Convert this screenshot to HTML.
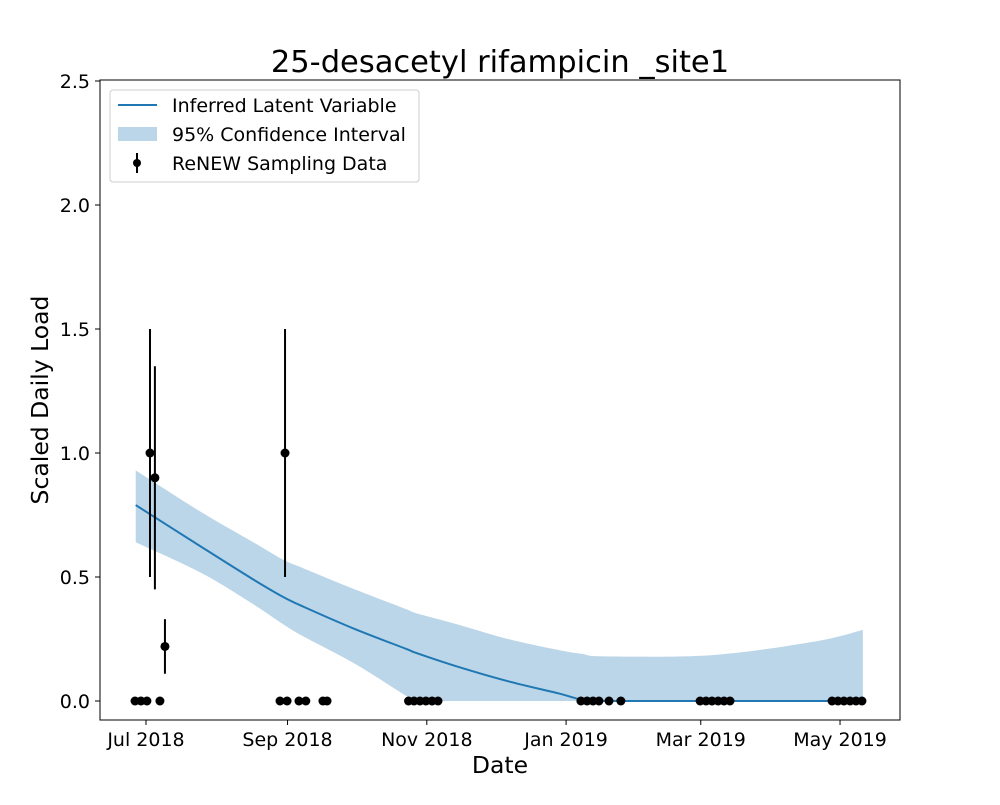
<!DOCTYPE html>
<html><head><meta charset="utf-8"><style>body{margin:0;background:#fff}svg{font-family:"DejaVu Sans","Liberation Sans",sans-serif}</style></head>
<body>
<svg id="chart" width="1000" height="800">
<rect width="1000" height="800" fill="#fff"/>
<text x="500" y="72" font-size="30.5" text-anchor="middle">25-desacetyl rifampicin _site1</text>
<g id="plot"></g>
<rect x="100" y="80" width="800" height="640" fill="none" stroke="#000" stroke-width="1"/>
<text x="500" y="773" font-size="23.5" text-anchor="middle">Date</text>
<text transform="translate(48,400) rotate(-90)" font-size="23.5" text-anchor="middle">Scaled Daily Load</text>
<g>
<rect x="110" y="90" width="309" height="92" rx="3" fill="#fff" fill-opacity="0.8" stroke="#ccc"/>
<line x1="118" y1="105" x2="157" y2="105" stroke="#1f77b4" stroke-width="2"/>
<text x="172" y="112" font-size="19">Inferred Latent Variable</text>
<rect x="118" y="127" width="39" height="14" fill="#1f77b4" fill-opacity="0.3"/>
<text x="172" y="141" font-size="19">95% Confidence Interval</text>
<line x1="137" y1="153" x2="137" y2="173" stroke="#000" stroke-width="2"/>
<circle cx="137" cy="163" r="4" fill="#000"/>
<text x="172" y="170" font-size="19">ReNEW Sampling Data</text>
</g>
</svg>
<script>
const curveDays=[-4.5,24.5,47,60,69,91.5,114,118,136,158.5,181,191,201,248,293,314];
const meanVals=[0.79,0.62,0.49,0.42,0.38,0.29,0.21,0.195,0.14,0.08,0.03,0.005,0,0,0,0];
const upperVals=[0.93,0.76,0.64,0.57,0.535,0.45,0.37,0.355,0.31,0.25,0.205,0.19,0.18,0.185,0.24,0.287];
const lowerVals=[0.64,0.515,0.39,0.31,0.26,0.15,0.02,0,0,0,0,0,0,0,0,0];
const sampleDays=[-4.8,-2.2,0.4,1.75,3.9,6.1,8.3,58.7,60.9,61.8,67,70,77.5,79.3,115,117.4,120,122.6,125.3,127.9,190.5,193.2,195.8,198.4,202.8,208,242.7,245.3,247.9,250.6,253.2,255.8,300.5,303.1,305.7,308.4,311,313.6];
const sampleVals=[0,0,0,1.0,0.9,0,0.22,0,1.0,0,0,0,0,0,0,0,0,0,0,0,0,0,0,0,0,0,0,0,0,0,0,0,0,0,0,0,0,0];
const sampleErr=[0,0,0,0.5,0.45,0,0.11,0,0.5,0,0,0,0,0,0,0,0,0,0,0,0,0,0,0,0,0,0,0,0,0,0,0,0,0,0,0,0,0];
const xTickDays=[0,62,123,184,243,304];
const xTickLabels=["Jul 2018","Sep 2018","Nov 2018","Jan 2019","Mar 2019","May 2019"];
const yTicks=[0,0.5,1,1.5,2,2.5];
const yTickLabels=["0.0","0.5","1.0","1.5","2.0","2.5"];
const X=d=>146+d*2.283, Y=v=>701-v*248;
const NS="http://www.w3.org/2000/svg", g=document.getElementById('plot');
function mk(t,a){const e=document.createElementNS(NS,t);for(const k in a)e.setAttribute(k,a[k]);g.appendChild(e);return e;}
function spline(pts,start){let s=start?"M"+pts[0][0]+","+pts[0][1]:"L"+pts[0][0]+","+pts[0][1];
 for(let i=0;i<pts.length-1;i++){const p0=pts[Math.max(i-1,0)],p1=pts[i],p2=pts[i+1],p3=pts[Math.min(i+2,pts.length-1)];
  s+="C"+(p1[0]+(p2[0]-p0[0])/6)+","+(p1[1]+(p2[1]-p0[1])/6)+" "+(p2[0]-(p3[0]-p1[0])/6)+","+(p2[1]-(p3[1]-p1[1])/6)+" "+p2[0]+","+p2[1];}
 return s;}
const up=curveDays.map((x,i)=>[X(x),Y(upperVals[i])]);
const lo=curveDays.map((x,i)=>[X(x),Y(lowerVals[i])]).reverse();
let band=mk('path',{d:spline(up,true)+spline(lo,false)+"Z",fill:"#1f77b4","fill-opacity":0.3});


let line=mk('path',{d:spline(curveDays.map((x,i)=>[X(x),Y(meanVals[i])]),true),fill:"none",stroke:"#1f77b4","stroke-width":2});


sampleDays.forEach((x,i)=>{
 if(sampleErr[i]>0){let l=mk('line',{x1:X(x),x2:X(x),y1:Y(sampleVals[i]-sampleErr[i]),y2:Y(sampleVals[i]+sampleErr[i]),stroke:"#000","stroke-width":2});
 
 }
 let c=mk('circle',{cx:X(x),cy:Y(sampleVals[i]),r:4.5,fill:"#000"});
 
 
});
xTickDays.forEach((x,i)=>{
 mk('line',{x1:X(x),x2:X(x),y1:720,y2:725,stroke:"#000"});
 let t=mk('text',{x:X(x),y:746,"font-size":19,"text-anchor":"middle"});t.textContent=xTickLabels[i];
 
 
});
yTicks.forEach((v,i)=>{
 mk('line',{x1:95,x2:100,y1:Y(v),y2:Y(v),stroke:"#000"});
 let t=mk('text',{x:90,y:Y(v)+7,"font-size":19,"text-anchor":"end"});t.textContent=yTickLabels[i];
 
 
});
</script>
</body></html>
